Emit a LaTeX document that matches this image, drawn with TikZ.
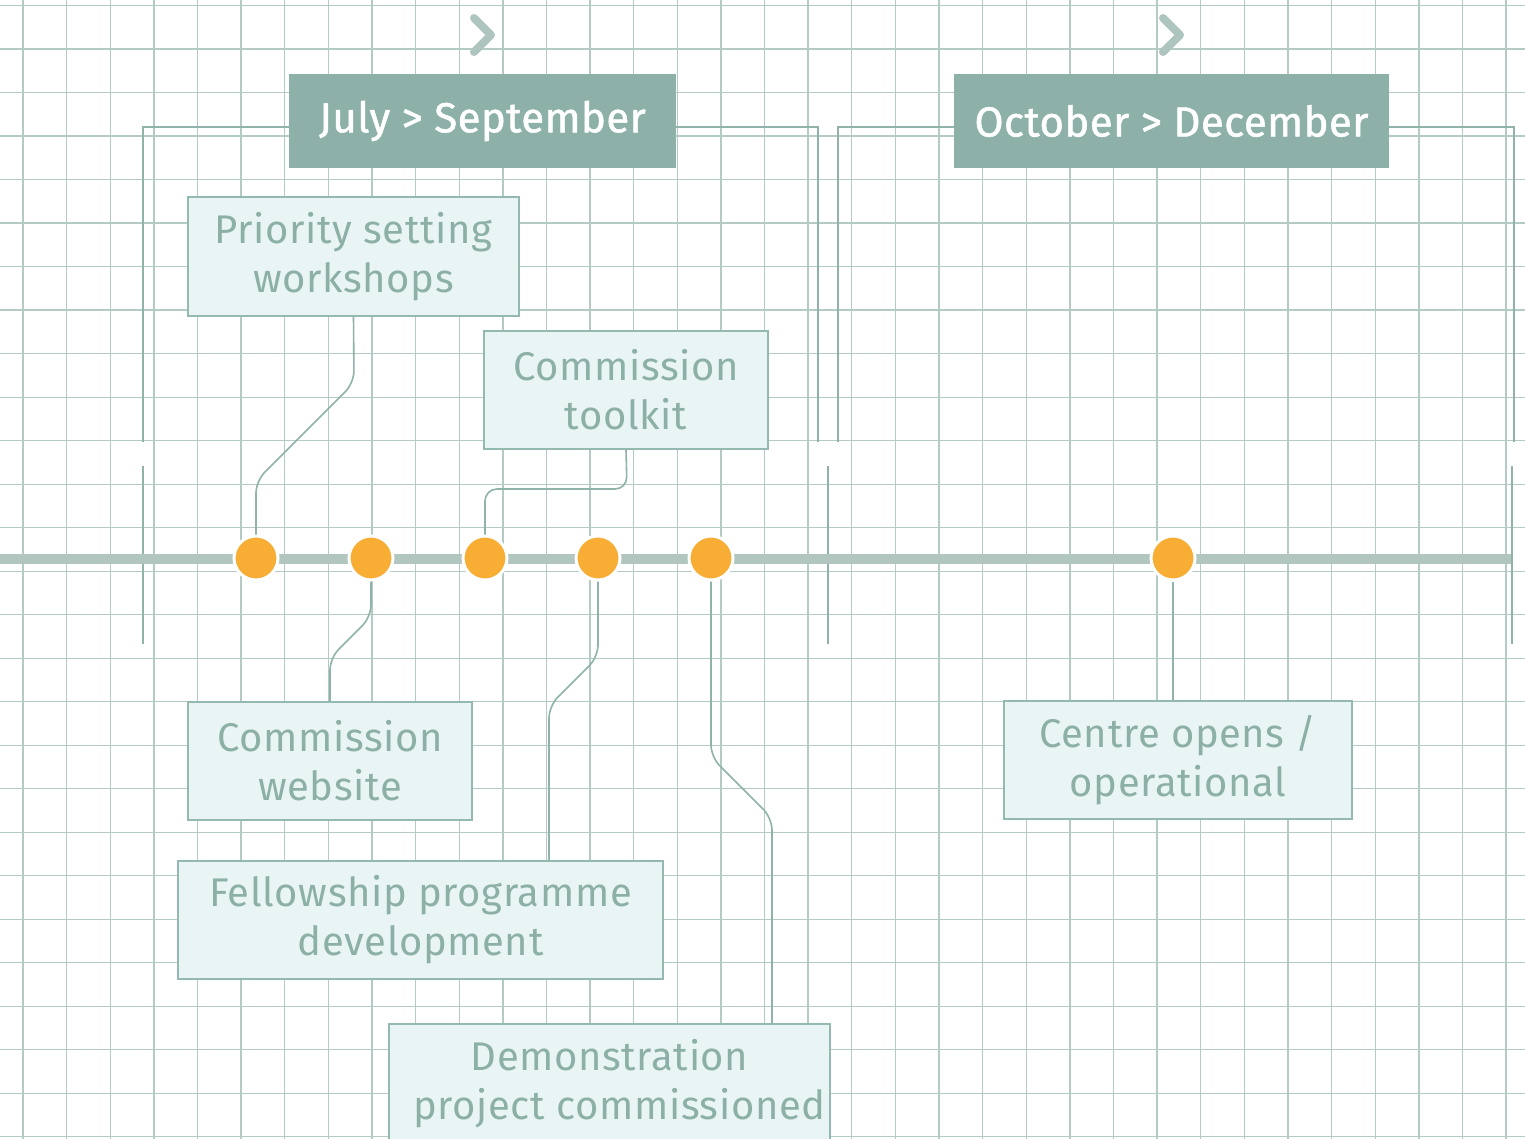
\documentclass[tikz,border=0pt]{standalone}
\usepackage{fontspec}
\setmainfont{Fira Sans}
\newfontfamily\boxfont{Fira Sans}[LetterSpace=1.6]
\newfontfamily\headfont{Fira Sans}[FakeBold=1.2,LetterSpace=1]
\definecolor{gridc}{RGB}{180,203,197}
\definecolor{linec}{RGB}{176,198,191}
\definecolor{brkc}{RGB}{143,179,170}
\definecolor{headc}{RGB}{141,177,168}
\definecolor{boxfill}{RGB}{233,245,245}
\definecolor{boxdraw}{RGB}{148,185,176}
\definecolor{txtc}{RGB}{140,176,166}
\definecolor{dotc}{RGB}{248,174,53}
\definecolor{chevc}{RGB}{173,197,190}
\tikzset{
  gridline/.style={draw=gridc, line width=1.4pt},
  bracket/.style={draw=brkc, line width=2pt},
  tick/.style={draw=brkc, line width=2pt},
  timeline/.style={draw=linec, line width=10pt},
  chevron/.style={draw=chevc, line width=8pt, line cap=round, line join=round},
  header/.style={fill=headc, draw=none, inner sep=0pt, text=white,
    font=\headfont\fontsize{42}{48}\selectfont, minimum height=94pt},
  tbox/.style={fill=boxfill, draw=boxdraw, line width=1.5pt, inner sep=0pt,
    text=txtc, align=center, font=\boxfont\fontsize{40}{49}\selectfont},
  dot/.style={circle, fill=dotc, draw=white, line width=3pt, minimum size=44pt, inner sep=0pt},
  conn/.style={draw=brkc, line width=1.6pt, rounded corners=12pt},
}
\begin{document}
\begin{tikzpicture}[x=1pt, y=-1pt]
\useasboundingbox (0,0) rectangle (1525,1139);
\clip (0,0) rectangle (1525,1139);
\fill[white] (0,0) rectangle (1525,1139);
% grid
\foreach \i in {0,...,34} \draw[gridline] ({23+43.62*\i},0) -- ++(0,1139);
\foreach \j in {0,...,26} \draw[gridline] (0,{5.7+43.5*\j}) -- ++(1525,0);
% chevrons
\draw[chevron] (474,18) -- (491,35) -- (474,52);
\draw[chevron] (1163,18) -- (1180,35) -- (1163,52);
% headers
\node[header, minimum width=387pt] (h1) at (482.5,121) {July > September};
\node[header, minimum width=435pt] (h2) at (1171.5,121) {October > December};
% brackets
\draw[bracket] (143,442) -- (143,127) -- (h1.west |- 0,127);
\draw[bracket] (h1.east |- 0,127) -- (818,127) -- (818,442);
\draw[bracket] (838,442) -- (838,127) -- (h2.west |- 0,127);
\draw[bracket] (h2.east |- 0,127) -- (1514,127) -- (1514,442);
% ticks
\draw[tick] (143,466) -- (143,644);
\draw[tick] (828,466) -- (828,644);
\draw[tick] (1512,466) -- (1512,644);
% timeline
\draw[timeline] (0,559) -- (1511,559);
% dots
\node[dot] (c1) at (256,558) {};
\node[dot] (c2) at (371,558) {};
\node[dot] (c3) at (485,558) {};
\node[dot] (c4) at (598,558) {};
\node[dot] (c5) at (711,558) {};
\node[dot] (c6) at (1173,558) {};
% boxes
\node[tbox, minimum width=331pt, minimum height=119pt] (prio) at (353.5,256.5) {Priority setting\\workshops};
\node[tbox, minimum width=284pt, minimum height=118pt] (tool) at (626,390) {Commission\\toolkit};
\node[tbox, minimum width=284pt, minimum height=118pt] (web) at (330,761) {Commission\\website};
\node[tbox, minimum width=485pt, minimum height=118pt] (fell) at (420.5,920) {Fellowship programme\\development};
\node[tbox, minimum width=441pt, minimum height=119pt] (demo) at (609.5,1083.5) {Demonstration\\\hspace*{20pt}project commissioned};
\node[tbox, minimum width=348pt, minimum height=118pt] (cent) at (1178,760) {Centre opens /\\operational};
% connectors
\draw[conn] (prio.south) -- (354,383) -- (256,481) -- (c1.north);
\draw[conn] (tool.south) -- (627,489) -- (485,489) -- (c3.north);
\draw[conn] (c2.south) -- (371,617) -- (330,658) -- (web.north);
\draw[conn] (c4.south) -- (598,657) -- (549,706) -- (fell.north -| 549,0);
\draw[conn] (c5.south) -- (711,757) -- (772,818) -- (demo.north -| 772,0);
\draw[conn] (c6.south) -- (c6.south |- cent.north);
\end{tikzpicture}
\end{document}
